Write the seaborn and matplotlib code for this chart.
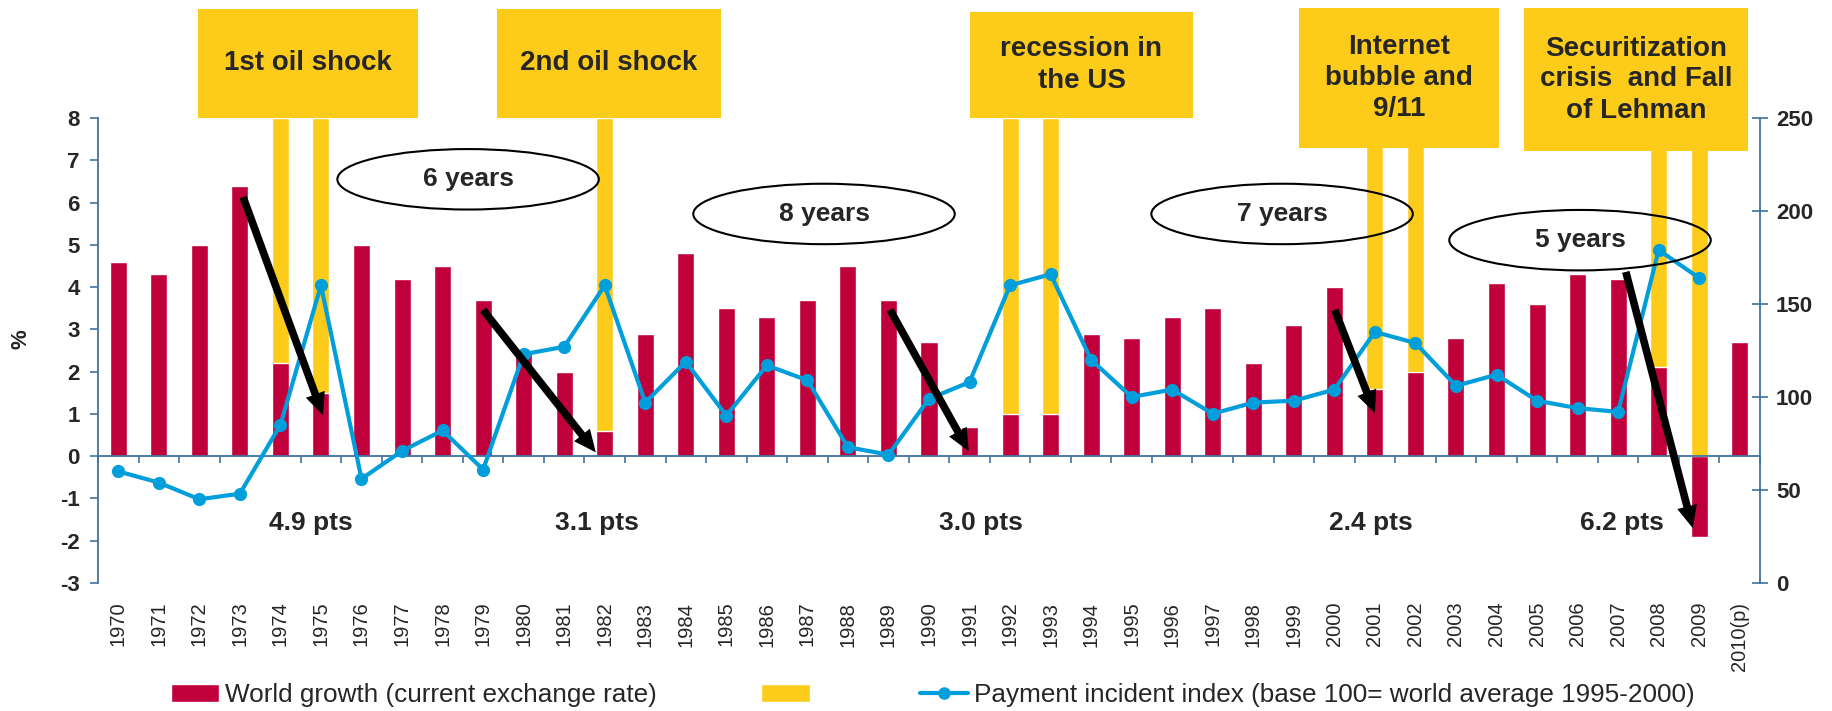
import numpy as np
import pandas as pd
import seaborn as sns
import matplotlib.pyplot as plt
from matplotlib.patches import Rectangle, Ellipse, Patch
from matplotlib.lines import Line2D

# Données
years = [str(y) for y in range(1970, 2010)] + ['2010(p)']
growth = [4.6, 4.3, 5.0, 6.4, 2.2, 1.5, 5.0, 4.2, 4.5, 3.7,
          2.5, 2.0, 0.6, 2.9, 4.8, 3.5, 3.3, 3.7, 4.5, 3.7,
          2.7, 0.7, 1.0, 1.0, 2.9, 2.8, 3.3, 3.5, 2.2, 3.1,
          4.0, 1.6, 2.0, 2.8, 4.1, 3.6, 4.3, 4.2, 2.1, -1.9, 2.7]
incidents = [60, 54, 45, 48, 85, 160, 56, 71, 82, 61,
             123, 127, 160, 97, 119, 90, 117, 109, 73, 69,
             99, 108, 160, 166, 120, 100, 104, 91, 97, 98,
             104, 135, 129, 106, 112, 98, 94, 92, 179, 164]
crisis_years = ['1974', '1975', '1982', '1992', '1993', '2001', '2002', '2008', '2009']

crisis_labels = ['1st oil shock', '2nd oil shock', 'recession in\nthe US',
                 'Internet\nbubble and\n9/11', 'Securitization\ncrisis  and Fall\nof Lehman']
# boîtes jaunes en pixels (x0, y0, x1, y1)
crisis_boxes = [(198, 9, 418, 118), (497, 9, 721, 118), (970, 12, 1193, 118),
                (1299, 8, 1499, 148), (1524, 8, 1748, 151)]

cycle_labels = ['6 years', '8 years', '7 years', '5 years']
cycle_pos = [(8.63, 6.55), (17.41, 5.73), (28.71, 5.73), (36.06, 5.11)]

drop_labels = ['4.9 pts', '3.1 pts', '3.0 pts', '2.4 pts', '6.2 pts']
drop_x = [4.75, 11.81, 21.28, 30.9, 37.1]
arrows = [((3.08, 6.13), (5.05, 0.97)), ((9.0, 3.46), (11.78, 0.09)),
          ((19.04, 3.46), (20.98, 0.12)), ((30.01, 3.46), (31.0, 1.02)),
          ((37.19, 4.36), (38.84, -1.70))]

red = '#C0003A'
yellow = '#FDCC1A'
blue = '#009EDB'
spine_col = '#41729F'

sns.set_theme(style='white')
plt.rcParams['font.family'] = ['Liberation Sans', 'DejaVu Sans']
plt.rcParams['axes.unicode_minus'] = False

W, H = 1832, 711
fig = plt.figure(figsize=(W / 100, H / 100), dpi=100)
ax = fig.add_axes([98 / W, 1 - 583 / H, 1662 / W, 465 / H])

# barres jaunes (années de crise) puis croissance mondiale
sns.barplot(x=crisis_years, y=[8] * len(crisis_years), order=years, color=yellow,
            width=0.42, saturation=1, ax=ax, zorder=1)
sns.barplot(x=years, y=growth, order=years, color=red, width=0.42, saturation=1,
            ax=ax, zorder=2)

ax.set_xlim(-0.5, len(years) - 0.5)
ax.set_ylim(-3, 8)
ax.set_yticks(range(-3, 9))
ax.set_xlabel('')
ax.set_ylabel('%', fontsize=16, fontweight='bold')
ax.yaxis.set_label_coords(-0.0403, 0.525)
ax.spines['bottom'].set_position(('data', 0))
ax.spines['top'].set_visible(False)
ax.spines['right'].set_visible(False)
for s in ['bottom', 'left']:
    ax.spines[s].set_color(spine_col)
    ax.spines[s].set_linewidth(1.3)
ax.set_xticks(np.arange(-0.5, len(years), 1))
ax.tick_params(axis='x', direction='out', length=5, width=1.2, color=spine_col,
               labelbottom=False, bottom=True)
ax.tick_params(axis='y', direction='out', length=6, width=1.2, color=spine_col,
               left=True, pad=7)
for t in ax.get_yticklabels():
    t.set_fontsize(16)
    t.set_fontweight('bold')

# étiquettes des années en bas
sec = ax.secondary_xaxis('bottom')
sec.set_xticks(range(len(years)), labels=years, rotation=90, fontsize=14.5)
sec.tick_params(length=0, pad=13.5)
sec.spines['bottom'].set_visible(False)

# indice des incidents de paiement
ax2 = ax.twinx()
sns.lineplot(x=np.arange(len(incidents)), y=incidents, ax=ax2, color=blue, lw=3,
             marker='o', markersize=9.5, markeredgewidth=0)
ax2.set_ylim(0, 250)
ax2.set_yticks(range(0, 251, 50))
ax2.set_ylabel('')
for s in ['top', 'bottom', 'left']:
    ax2.spines[s].set_visible(False)
ax2.spines['right'].set_color(spine_col)
ax2.spines['right'].set_linewidth(1.3)
ax2.tick_params(axis='y', direction='inout', length=11, width=1.2, color=spine_col,
                right=True, pad=6)
for t in ax2.get_yticklabels():
    t.set_fontsize(16)
    t.set_fontweight('bold')

# flèches, ellipses et écarts
for (x0, y0), (x1, y1) in arrows:
    ax2.annotate('', xy=(x1, y1), xytext=(x0, y0), xycoords=ax.transData,
                 textcoords=ax.transData, annotation_clip=False,
                 arrowprops=dict(arrowstyle='simple,head_length=1.6,head_width=1.45,tail_width=0.55',
                                 color='black', lw=0, mutation_scale=10,
                                 shrinkA=0, shrinkB=0))
for lab, (cx, cy) in zip(cycle_labels, cycle_pos):
    ax2.add_patch(Ellipse((cx, cy), 6.45, 1.43, transform=ax.transData, fill=False,
                          edgecolor='black', lw=1.5, clip_on=False, zorder=5))
    ax2.text(cx, cy, lab, transform=ax.transData, ha='center', va='center',
             fontsize=19, fontweight='bold', zorder=6)
for lab, x in zip(drop_labels, drop_x):
    ax2.text(x, -1.59, lab, transform=ax.transData, ha='center', va='center',
             fontsize=19, fontweight='bold')

# boîtes des crises
for lab, (x0, y0, x1, y1) in zip(crisis_labels, crisis_boxes):
    fig.add_artist(Rectangle((x0 / W, 1 - y1 / H), (x1 - x0) / W, (y1 - y0) / H,
                             transform=fig.transFigure, facecolor=yellow,
                             edgecolor='none', zorder=3))
    fig.text((x0 + x1) / 2 / W, 1 - (y0 + y1) / 2 / H, lab, ha='center', va='center',
             fontsize=20, fontweight='bold', linespacing=1.25, zorder=4)

# légende
handles = [Patch(facecolor=red), Patch(facecolor=yellow),
           Line2D([], [], color=blue, lw=3, marker='o', markersize=8)]
labels = ['World growth (current exchange rate)', '',
          'Payment incident index (base 100= world average 1995-2000)']
fig.legend(handles, labels, loc='center left', bbox_to_anchor=(171 / W, 1 - 695 / H),
           ncol=3, frameon=False, fontsize=18.8, handlelength=1.85, handleheight=0.65,
           handletextpad=0.22, columnspacing=4.0, borderpad=0, borderaxespad=0)

fig.savefig('out.png', dpi=100)
